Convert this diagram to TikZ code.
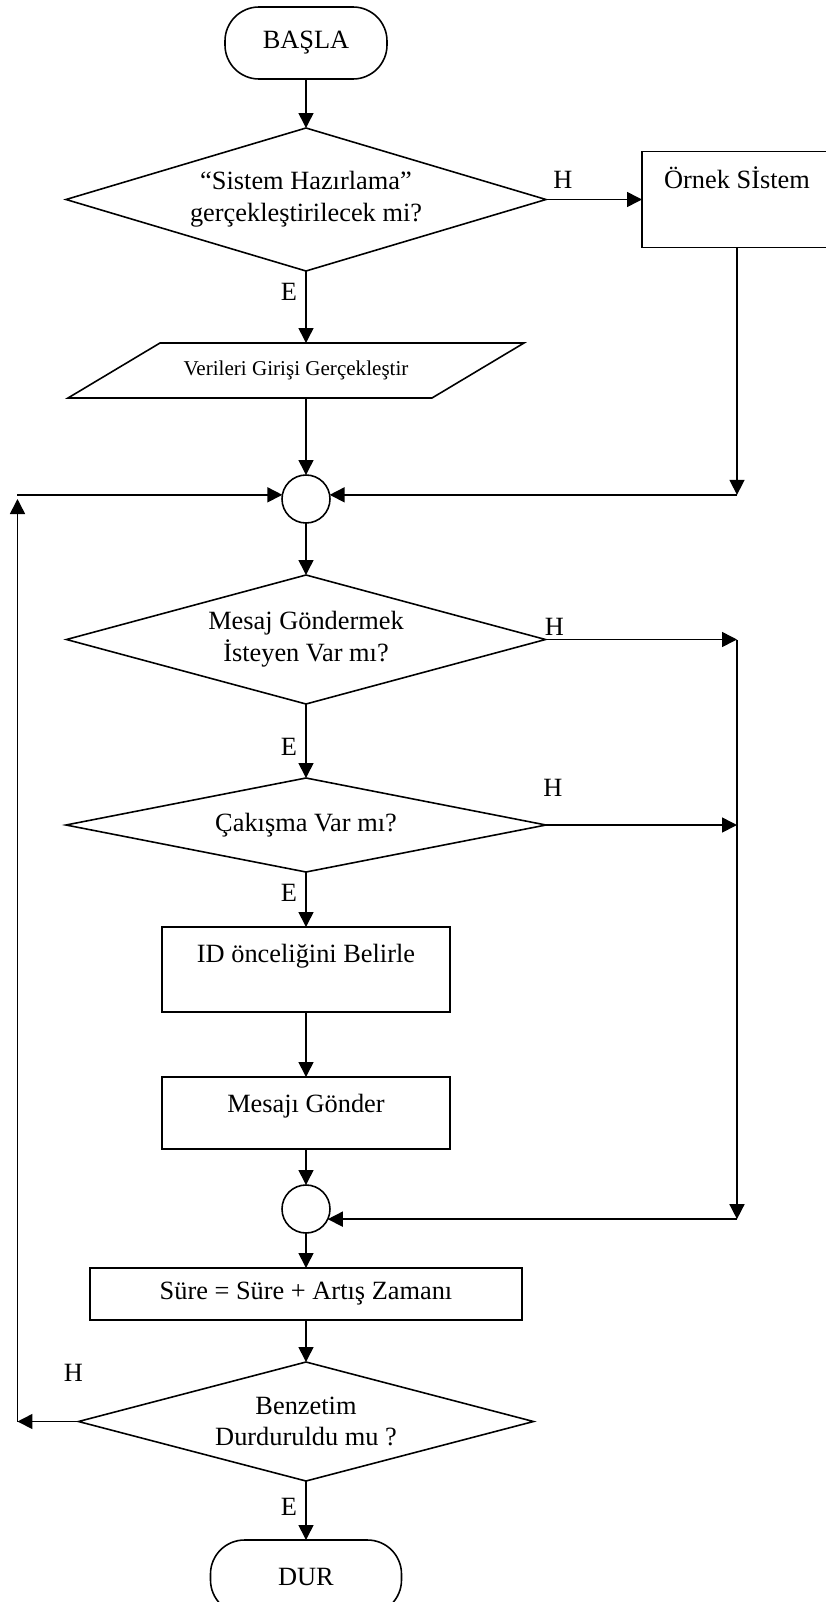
\documentclass[tikz,border=0pt]{standalone}
\usepackage{fontspec}
\setmainfont{Liberation Serif}
\usetikzlibrary{shapes.geometric,arrows.meta,positioning,calc}
\tikzset{
  term style/.style={rectangle, rounded corners=0.68cm, draw, line width=0.9pt, outer sep=0pt,
    minimum width=3.24cm, minimum height=1.44cm, font=\fontsize{15}{18}\selectfont},
  dec style/.style={diamond, draw, line width=0.9pt, outer sep=0pt, inner sep=0pt, align=center,
    font=\fontsize{15}{18}\selectfont},
  box style/.style={rectangle, draw, line width=0.9pt, outer sep=0pt, align=center,
    font=\fontsize{15}{18}\selectfont},
  io style/.style={rectangle, outer sep=0pt, minimum width=7.28cm, minimum height=1.1cm,
    font=\fontsize{12}{14}\selectfont},
  jn style/.style={circle, draw, line width=0.9pt, outer sep=0pt, minimum size=0.96cm, inner sep=0pt},
  arr style/.style={-{Triangle[length=0.3cm,width=0.3cm]}, line width=0.9pt},
  lbl style/.style={inner sep=0pt, font=\fontsize{15}{18}\selectfont}
}
\begin{document}
\begin{tikzpicture}
\useasboundingbox (-6.12,0.86) rectangle (10.4,-31.18);

\node[term style] (start) at (0,0) {BAŞLA};
\node[dec style, minimum width=9.6cm, minimum height=2.86cm, aspect=3.36, below=0.98cm of start] (D1)
  {“Sistem Hazırlama”\\gerçekleştirilecek mi?};
\node[box style, minimum width=3.8cm, minimum height=1.92cm, text depth=0.88cm, right=1.92cm of D1] (orn)
  {Örnek Sİstem};
\node[io style, below=1.44cm of D1, xshift=-0.2cm] (para) {Verileri Girişi Gerçekleştir};
\draw[line width=0.9pt] ($(para.south west)+(-0.92,0)$) -- ($(para.north west)+(0.92,0)$)
  -- ($(para.north east)+(0.92,0)$) -- ($(para.south east)+(-0.92,0)$) -- cycle;
\node[jn style, below=1.54cm of para, xshift=0.2cm] (c1) {};
\node[dec style, minimum width=9.58cm, minimum height=2.58cm, aspect=3.71, below=1.04cm of c1] (D2)
  {Mesaj Göndermek\\İsteyen Var mı?};
\node[dec style, minimum width=9.6cm, minimum height=1.88cm, aspect=5.1, below=1.48cm of D2] (D3)
  {Çakışma Var mı?};
\node[box style, minimum width=5.76cm, minimum height=1.7cm, text depth=0.66cm, below=1.1cm of D3] (id)
  {ID önceliğini Belirle};
\node[box style, minimum width=5.76cm, minimum height=1.44cm, text depth=0.38cm, below=1.3cm of id] (msg)
  {Mesajı Gönder};
\node[jn style, below=0.72cm of msg] (c2) {};
\node[box style, minimum width=8.64cm, minimum height=1.04cm, below=0.7cm of c2] (sure)
  {Süre = Süre + Artış Zamanı};
\node[dec style, minimum width=9.1cm, minimum height=2.38cm, aspect=3.82, below=0.84cm of sure] (D4)
  {Benzetim\\Durduruldu mu ?};
\node[term style, minimum width=3.82cm, minimum height=1.48cm, below=1.18cm of D4] (stop) {DUR};

\node[lbl style] (h1) at ($(D1.east)+(0.34,0.4)$) {H};
\node[lbl style] (e1) at ($(D1.south)+(-0.34,-0.42)$) {E};
\node[lbl style] (h2) at ($(D2.east)+(0.18,0.26)$) {H};
\node[lbl style] (e2) at ($(D2.south)+(-0.34,-0.86)$) {E};
\node[lbl style] (h3) at ($(D3.east)+(0.14,0.74)$) {H};
\node[lbl style] (e3) at ($(D3.south)+(-0.34,-0.42)$) {E};
\node[lbl style] (h4) at ($(D4.west)+(-0.1,0.98)$) {H};
\node[lbl style] (e4) at ($(D4.south)+(-0.34,-0.52)$) {E};

\draw[arr style] (start) -- (D1);
\draw[arr style] (D1.east) -- (orn);
\draw[arr style] (D1.south) -- (D1.south |- para.north);
\draw[arr style] (para.south -| c1) -- (c1);
\draw[arr style] (c1) -- (D2);
\draw[arr style] (D2) -- (D3);
\draw[arr style] (D3) -- (id);
\draw[arr style] (id) -- (msg);
\draw[arr style] (msg) -- (c2);
\draw[arr style] (c2) -- (sure);
\draw[arr style] (sure) -- (D4);
\draw[arr style] (D4) -- (stop);

\coordinate (r1) at (orn.south |- c1.10);
\coordinate (r2) at (orn.south |- D2.east);
\coordinate (r3) at (orn.south |- c2.-25);
\draw[arr style] (orn.south) -- (r1);
\draw[arr style] (r1) -- (c1.10);
\draw[arr style] (D2.east) -- (r2);
\draw[arr style] (D3.east) -- (D3.east -| r2);
\draw[arr style] (r2) -- (r3);
\draw[arr style] (r3) -- (c2.-25);

\coordinate (l1) at ($(D4.west)+(-1.22cm,0)$);
\draw[arr style] (D4.west) -- (l1);
\draw[arr style] (l1) -- (l1 |- c1);
\draw[arr style] (l1 |- c1.170) -- (c1.170);

\end{tikzpicture}
\end{document}
